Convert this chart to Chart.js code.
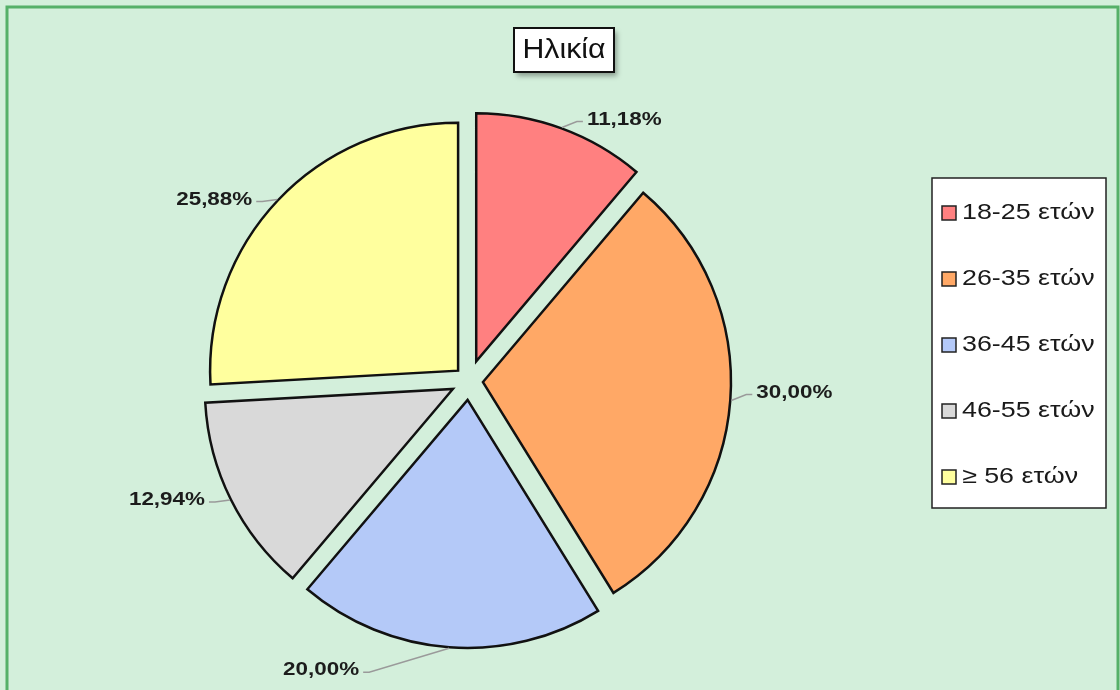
<!DOCTYPE html>
<html>
<head>
<meta charset="utf-8">
<script src="https://cdn.jsdelivr.net/npm/chart.js@4.4.1/dist/chart.umd.min.js"></script>
<style>
  html, body { margin: 0; padding: 0; background: #d3efdb; }
  #wrap { position: relative; width: 1120px; height: 690px; }
</style>
</head>
<body>
<div id="wrap"><canvas id="c" width="1120" height="690"></canvas></div>
<script>
// ---- data ----
const chartTitle = 'Ηλικία';
const categories = ['18-25 ετών', '26-35 ετών', '36-45 ετών', '46-55 ετών', '≥ 56 ετών'];
const percentages = [11.18, 30.00, 20.00, 12.94, 25.88];
const sliceColors = ['#ff8080', '#ffa866', '#b4c9f8', '#d9d9d9', '#ffff9e'];

// ---- style ----
const BG = '#d3efdb';
const FRAME = '#55b068';
const sliceExplode = [21, 14, 19, 18, 15];   // per-slice explosion distance (style)
const STRETCH = 1.18;
const FONT_FAMILY = '"Liberation Sans", Arial, sans-serif';

function fmtPct(v) { return v.toFixed(2).replace('.', ',') + '%'; }

function drawText(ctx, text, x, y, align, font, color, sx) {
  ctx.save();
  ctx.font = font;
  ctx.fillStyle = color;
  ctx.textBaseline = 'middle';
  ctx.textAlign = align;
  ctx.translate(x, y);
  ctx.scale(sx, 1);
  ctx.fillText(text, 0, 0);
  ctx.restore();
}

const backgroundPlugin = {
  id: 'bgFrame',
  beforeDraw(chart) {
    const ctx = chart.ctx;
    ctx.save();
    ctx.fillStyle = BG;
    ctx.fillRect(0, 0, chart.width, chart.height);
    ctx.strokeStyle = FRAME;
    ctx.lineWidth = 3;
    ctx.strokeRect(7, 7, chart.width - 9, chart.height + 10);
    ctx.restore();
  }
};

const explodePlugin = {
  id: 'explode',
  beforeDatasetDraw(chart, args) {
    const ctx = chart.ctx;
    args.meta.data.forEach((arc, i) => {
      const mid = (arc.startAngle + arc.endAngle) / 2;
      const e = sliceExplode[i];
      ctx.save();
      ctx.translate(Math.cos(mid) * e, Math.sin(mid) * e);
      arc.draw(ctx);
      ctx.restore();
    });
    return false;
  }
};

const labelsPlugin = {
  id: 'pctLabels',
  afterDatasetsDraw(chart) {
    const ctx = chart.ctx;
    const meta = chart.getDatasetMeta(0);
    const font = 'bold 19px ' + FONT_FAMILY;
    meta.data.forEach((arc, i) => {
      const mid = (arc.startAngle + arc.endAngle) / 2;
      const dx = Math.cos(mid), dy = Math.sin(mid);
      const e = sliceExplode[i];
      const cx = arc.x + dx * e, cy = arc.y + dy * e;
      const px = cx + dx * (arc.outerRadius + 1), py = cy + dy * (arc.outerRadius + 1);
      const txt = fmtPct(chart.data.datasets[0].data[i]);
      const side = dx >= 0 ? 1 : -1;
      let tx, ty;
      if (Math.abs(dx) < 0.3) {
        tx = px + side * 90;
        ty = py + dy * 22;
      } else {
        tx = px + side * 25;
        ty = py - (side > 0 ? 8 : 0);
      }
      ctx.save();
      ctx.strokeStyle = '#9a9a9a';
      ctx.lineWidth = 1.5;
      ctx.beginPath();
      ctx.moveTo(px, py);
      ctx.lineTo(tx - side * 10, ty + 2);
      ctx.lineTo(tx - side * 4, ty + 2);
      ctx.stroke();
      ctx.restore();
      drawText(ctx, txt, tx, ty, side > 0 ? 'left' : 'right', font, '#1c1c1c', STRETCH);
    });
  }
};

const titleLegendPlugin = {
  id: 'titleLegend',
  afterDraw(chart) {
    const ctx = chart.ctx;
    // title box
    const tFont = '27px ' + FONT_FAMILY;
    const tcx = chart.width / 2 + 4, tcy = 50;
    const tw = 100, th = 44;
    ctx.save();
    ctx.shadowColor = 'rgba(0,0,0,0.35)';
    ctx.shadowBlur = 5;
    ctx.shadowOffsetX = 3;
    ctx.shadowOffsetY = 4;
    ctx.fillStyle = '#ffffff';
    ctx.fillRect(tcx - tw / 2, tcy - th / 2, tw, th);
    ctx.restore();
    ctx.save();
    ctx.strokeStyle = '#111';
    ctx.lineWidth = 2;
    ctx.strokeRect(tcx - tw / 2, tcy - th / 2, tw, th);
    ctx.restore();
    drawText(ctx, chartTitle, tcx, tcy + 1, 'center', tFont, '#111', 1.12);

    // legend box
    const lx = 932, ly = 178, lw = 174, lh = 330;
    ctx.save();
    ctx.fillStyle = '#ffffff';
    ctx.fillRect(lx, ly, lw, lh);
    ctx.strokeStyle = '#222';
    ctx.lineWidth = 1.5;
    ctx.strokeRect(lx, ly, lw, lh);
    ctx.restore();
    const lFont = '22px ' + FONT_FAMILY;
    const rowH = lh / chart.data.labels.length;
    chart.data.labels.forEach((lab, i) => {
      const cy = ly + rowH * (i + 0.5) + 2;
      ctx.save();
      ctx.fillStyle = chart.data.datasets[0].backgroundColor[i];
      ctx.fillRect(942, cy - 7, 14, 14);
      ctx.strokeStyle = '#222';
      ctx.lineWidth = 1.5;
      ctx.strokeRect(942, cy - 7, 14, 14);
      ctx.restore();
      drawText(ctx, lab, 962, cy, 'left', lFont, '#1a1a1a', 1.22);
    });
  }
};

new Chart(document.getElementById('c'), {
  type: 'pie',
  data: {
    labels: categories,
    datasets: [{
      data: percentages,
      backgroundColor: sliceColors,
      borderColor: '#111111',
      borderWidth: 2.5,
      borderJoinStyle: 'miter',
      offset: 0,
      hoverOffset: 0
    }]
  },
  options: {
    responsive: false,
    animation: false,
    events: [],
    radius: 248,
    layout: { padding: { left: 20, right: 202, top: 90, bottom: 18 } },
    plugins: {
      legend: { display: false },
      title: { display: false },
      tooltip: { enabled: false }
    }
  },
  plugins: [backgroundPlugin, explodePlugin, labelsPlugin, titleLegendPlugin]
});
</script>
</body>
</html>
